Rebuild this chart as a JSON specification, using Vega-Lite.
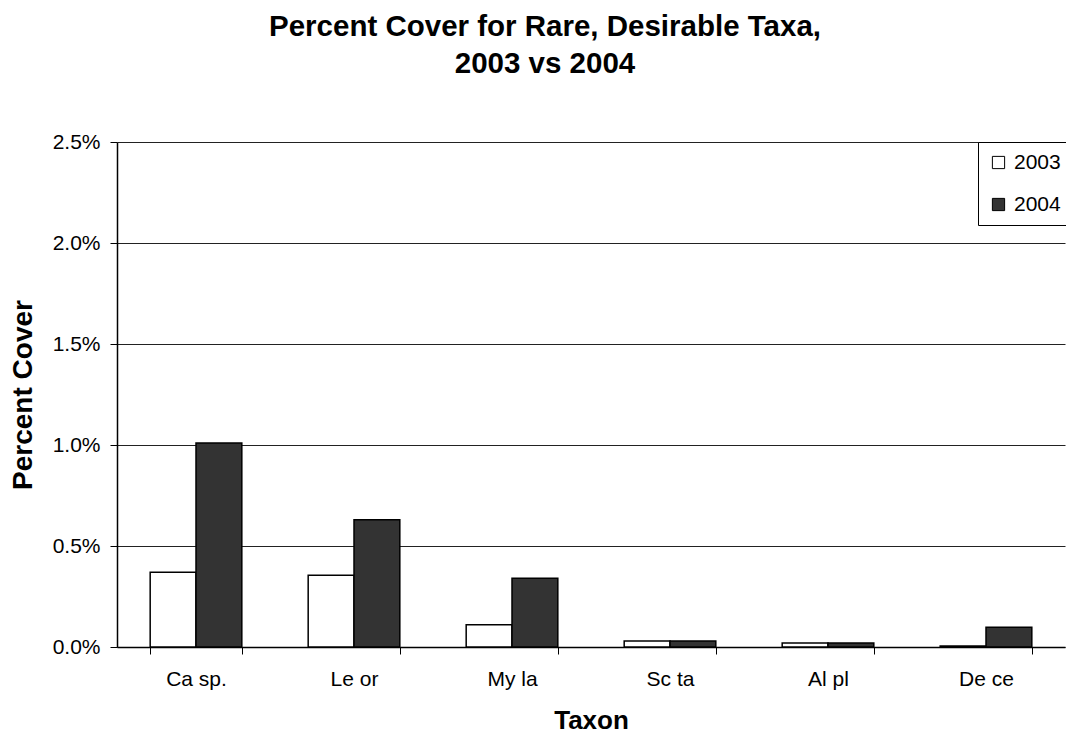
{
  "$schema": "https://vega.github.io/schema/vega-lite/v6.json",
  "width": 948,
  "height": 505,
  "autosize": "none",
  "padding": {"left": 117, "top": 142, "right": 1, "bottom": 88},
  "background": "white",
  "config": {
    "font": "Liberation Sans",
    "view": {"stroke": null}
  },
  "title": {
    "text": ["Percent Cover for Rare, Desirable Taxa,", "2003 vs 2004"],
    "fontSize": 29.5,
    "fontWeight": "bold",
    "color": "black",
    "anchor": "middle",
    "frame": "group",
    "dx": -46,
    "offset": 52,
    "lineHeight": 37
  },
  "data": {
    "values": [
      {"taxon": "Ca sp.", "year": "2003", "cover": 0.0037},
      {"taxon": "Ca sp.", "year": "2004", "cover": 0.0101},
      {"taxon": "Le or", "year": "2003", "cover": 0.00355},
      {"taxon": "Le or", "year": "2004", "cover": 0.0063},
      {"taxon": "My la", "year": "2003", "cover": 0.0011},
      {"taxon": "My la", "year": "2004", "cover": 0.0034},
      {"taxon": "Sc ta", "year": "2003", "cover": 0.0003},
      {"taxon": "Sc ta", "year": "2004", "cover": 0.0003},
      {"taxon": "Al pl", "year": "2003", "cover": 0.0002},
      {"taxon": "Al pl", "year": "2004", "cover": 0.0002},
      {"taxon": "De ce", "year": "2003", "cover": 0.00005},
      {"taxon": "De ce", "year": "2004", "cover": 0.00098}
    ]
  },
  "mark": {"type": "bar", "stroke": "black", "strokeWidth": 1.5},
  "encoding": {
    "x": {
      "field": "taxon",
      "type": "nominal",
      "sort": null,
      "scale": {"paddingInner": 0.42, "paddingOuter": 0.21},
      "axis": {
        "labelAngle": 0,
        "tickBand": "extent",
        "tickSize": 7,
        "tickColor": "black",
        "domainColor": "black",
        "domainWidth": 1.5,
        "labelFontSize": 21,
        "labelColor": "black",
        "labelPadding": 14,
        "title": "Taxon",
        "titleFontSize": 26,
        "titleFontWeight": "bold",
        "titleColor": "black",
        "titlePadding": 18
      }
    },
    "xOffset": {"field": "year", "type": "nominal"},
    "y": {
      "field": "cover",
      "type": "quantitative",
      "scale": {"domain": [0, 0.025], "nice": false},
      "axis": {
        "format": ".1%",
        "values": [0, 0.005, 0.01, 0.015, 0.02, 0.025],
        "labelFontSize": 21,
        "labelColor": "black",
        "tickSize": 7,
        "tickColor": "black",
        "domainColor": "black",
        "domainWidth": 1.5,
        "gridColor": "#222222",
        "gridWidth": 1,
        "labelPadding": 10,
        "title": "Percent Cover",
        "titleFontSize": 28,
        "titleFontWeight": "bold",
        "titleColor": "black",
        "titlePadding": 15
      }
    },
    "fill": {
      "field": "year",
      "type": "nominal",
      "scale": {"domain": ["2003", "2004"], "range": ["#ffffff", "#333333"]},
      "legend": {
        "orient": "none",
        "legendX": 861,
        "legendY": 0,
        "title": null,
        "symbolType": "square",
        "symbolSize": 150,
        "symbolStrokeColor": "black",
        "symbolStrokeWidth": 1,
        "labelFontSize": 21,
        "labelColor": "black",
        "labelOffset": 5,
        "strokeColor": "black",
        "fillColor": "white",
        "padding": 10,
        "rowPadding": 20
      }
    }
  }
}
